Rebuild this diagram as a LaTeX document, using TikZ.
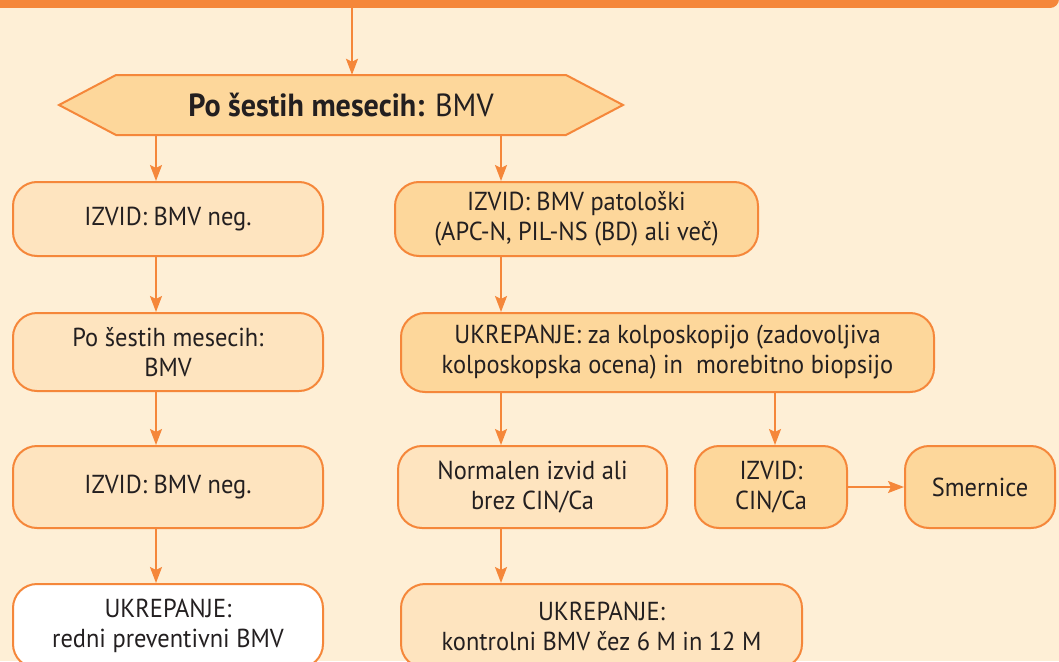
\documentclass[tikz,border=0pt]{standalone}
\usepackage{fontspec}
\setmainfont{PT Sans}[FakeStretch=0.94]
\usetikzlibrary{arrows.meta,calc}

\definecolor{flowline}{HTML}{F5873A}
\definecolor{flowback}{HTML}{FEEFD6}
\definecolor{flowlight}{HTML}{FEE4BF}
\definecolor{flowdark}{HTML}{FDD79B}
\definecolor{flowtext}{HTML}{231F20}

\tikzset{
  box/.style={draw=flowline, line width=2pt, rounded corners=24pt, fill=flowlight,
    align=center, inner sep=0pt, text=flowtext, font=\fontsize{26}{30}\selectfont},
  darkbox/.style={box, fill=flowdark},
  whitebox/.style={box, fill=white},
  arrow/.style={draw=flowline, line width=2pt, -{Stealth[length=16pt,width=12pt,inset=3pt]}},
}

\begin{document}
\begin{tikzpicture}[x=1pt, y=-1pt]

  % frame of the picture
  \useasboundingbox (0,0) rectangle (1059,661);
  \clip (0,0) rectangle (1059,661);
  \fill[flowback] (0,0) rectangle (1059,661);

  % bar at the top
  \node[fill=flowline, rounded corners=9pt, minimum width=1079pt, minimum height=28pt, inner sep=0pt] (bar) at (519.5,-6) {};

  % hexagon
  \coordinate (hexc) at (341,105);
  \filldraw[draw=flowline, line width=2pt, fill=flowdark]
    ($(hexc)+(-225,-30)$) -- ($(hexc)+(225,-30)$) -- ($(hexc)+(282,0)$)
    -- ($(hexc)+(225,30)$) -- ($(hexc)+(-225,30)$) -- ($(hexc)+(-282,0)$) -- cycle;
  \node[minimum width=450pt, minimum height=60pt, inner sep=0pt, text=flowtext,
    font=\fontsize{32}{36}\selectfont] (hex) at (hexc) {\textbf{Po šestih mesecih:} BMV};

  % left column
  \node[box, minimum width=310pt, minimum height=74pt] (neg1) at (168,219) {IZVID: BMV neg.};
  \node[box, minimum width=310pt, minimum height=78pt] (bmv) at (168,352) {Po šestih mesecih:\\BMV};
  \node[box, minimum width=310pt, minimum height=82pt] (neg2) at (168,487) {IZVID: BMV neg.};
  \node[whitebox, minimum width=310pt, minimum height=84pt] (redni) at (168,626) {UKREPANJE:\\redni preventivni BMV};

  % right column
  \node[darkbox, minimum width=363pt, minimum height=74pt] (pato) at (576.5,219) {IZVID: BMV patološki\\(APC-N, PIL-NS (BD) ali več)};
  \node[darkbox, minimum width=533pt, minimum height=79pt] (kolpo) at (667.5,352.5) {UKREPANJE: za kolposkopijo (zadovoljiva\\kolposkopska ocena) in~ morebitno biopsijo};
  \node[box, minimum width=269pt, minimum height=82pt] (normal) at (532.5,487) {Normalen izvid ali\\brez CIN/Ca};
  \node[darkbox, minimum width=152pt, minimum height=82pt] (cin) at (771,487) {IZVID:\\CIN/Ca};
  \node[darkbox, minimum width=150pt, minimum height=82pt] (smer) at (980,487) {Smernice};
  \node[box, minimum width=401pt, minimum height=84pt] (kontr) at (601.5,626) {UKREPANJE:\\kontrolni BMV čez 6 M in 12 M};

  % x of the arrows
  \coordinate (xa) at (352,0);
  \coordinate (xl) at (156,0);
  \coordinate (xr) at (501,0);
  \coordinate (xc) at (775,0);

  % arrows
  \draw[arrow] (bar.south -| xa) -- (hex.north -| xa);
  \draw[arrow] (hex.south -| xl) -- (neg1.north -| xl);
  \draw[arrow] (neg1.south -| xl) -- (bmv.north -| xl);
  \draw[arrow] (bmv.south -| xl) -- (neg2.north -| xl);
  \draw[arrow] (neg2.south -| xl) -- (redni.north -| xl);
  \draw[arrow] (hex.south -| xr) -- (pato.north -| xr);
  \draw[arrow] (pato.south -| xr) -- (kolpo.north -| xr);
  \draw[arrow] (kolpo.south -| xr) -- (normal.north -| xr);
  \draw[arrow] (kolpo.south -| xc) -- (cin.north -| xc);
  \draw[arrow] (normal.south -| xr) -- (kontr.north -| xr);
  \draw[arrow] (cin.east) -- (smer.west);

\end{tikzpicture}
\end{document}
